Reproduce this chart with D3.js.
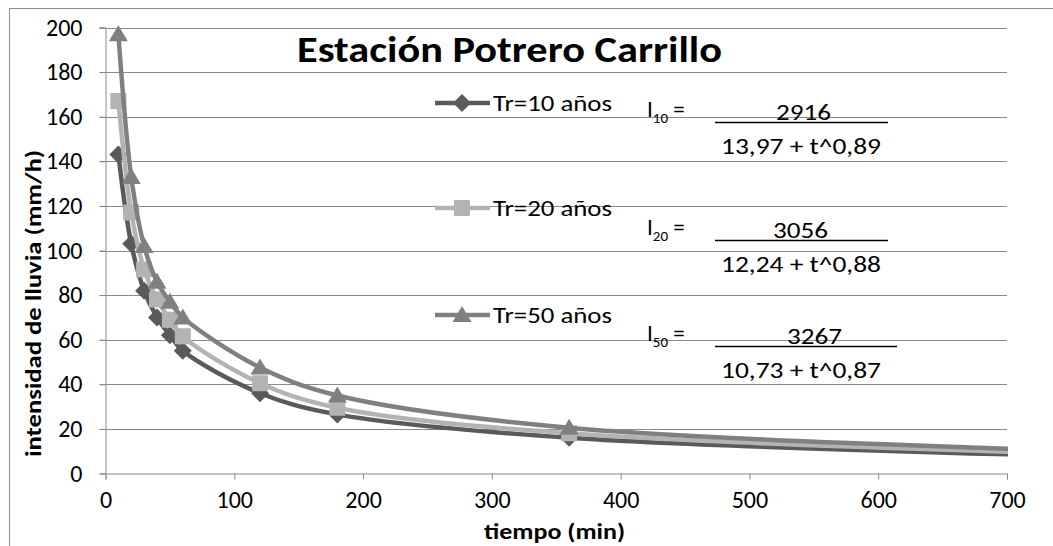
<!DOCTYPE html>
<html>
<head>
<meta charset="utf-8">
<script src="https://cdn.jsdelivr.net/npm/d3@7"></script>
<style>
  html, body { margin: 0; padding: 0; background: #fff; }
  svg text { font-family: Carlito, Calibri, Lato, "Open Sans", sans-serif; fill: #000; }
</style>
</head>
<body>
<svg id="chart" width="1053" height="546"></svg>
<script>
// Duration (min) and rainfall intensity (mm/h) for each return period
const tiempos = [10, 20, 30, 40, 50, 60, 120, 180, 360, 720];
const tr10 = [143, 103, 82, 70, 62, 55, 36, 26.5, 16, 8.3];
const tr20 = [167, 117, 91.5, 78, 69, 61.5, 40.5, 29.5, 18, 9.4];
const tr50 = [197, 133, 102, 86, 77, 70, 47.5, 35, 20.5, 10.8];
const seriesNames = ["Tr=10 años", "Tr=20 años", "Tr=50 años"];
const xTicks = [0, 100, 200, 300, 400, 500, 600, 700];
const yTicks = [0, 20, 40, 60, 80, 100, 120, 140, 160, 180, 200];
const titulo = "Estación Potrero Carrillo";
const xTitulo = "tiempo (min)";
const yTitulo = "intensidad de lluvia (mm/h)";
// IDF fit shown beside each legend entry
const ecuaciones = [
  { sub: "10", num: "2916", den: "13,97 + t^0,89" },
  { sub: "20", num: "3056", den: "12,24 + t^0,88" },
  { sub: "50", num: "3267", den: "10,73 + t^0,87" }
];

const svg = d3.select("#chart");
const W = 1053, H = 546;
const plot = { left: 105.5, right: 1007, top: 27.5, bottom: 473.5 };

const x = d3.scaleLinear().domain([0, 700]).range([plot.left, plot.right]);
const y = d3.scaleLinear().domain([0, 200]).range([plot.bottom, plot.top]);

const axisColor = "#8a8a8a";
const colors = ["#5a5a5a", "#b3b3b3", "#808080"];
const shapes = ["diamond", "square", "triangle"];
const fontStack = "Carlito, Calibri, Lato, sans-serif";

// outer chart border
svg.append("rect").attr("x", 9.5).attr("y", 8.5).attr("width", W + 20).attr("height", H + 20)
  .attr("fill", "none").attr("stroke", "#8c8c8c").attr("stroke-width", 1);

// horizontal gridlines
svg.append("g").selectAll("line").data(yTicks.filter(d => d > 0)).join("line")
  .attr("x1", plot.left - 6).attr("x2", plot.right)
  .attr("y1", d => Math.round(y(d)) + 0.5).attr("y2", d => Math.round(y(d)) + 0.5)
  .attr("stroke", axisColor).attr("stroke-width", 1);

// y axis
const yAxis = svg.append("g").attr("transform", `translate(${plot.left},0)`)
  .call(d3.axisLeft(y).tickValues(yTicks).tickSize(6).tickPadding(17).tickFormat(d3.format("d")));
yAxis.select(".domain").attr("stroke", axisColor);
yAxis.selectAll(".tick line").attr("stroke", axisColor);
yAxis.selectAll("text").attr("fill", "#000")
  .style("font-family", fontStack).style("font-size", "24px");

// x axis
const xAxis = svg.append("g").attr("transform", `translate(0,${plot.bottom})`)
  .call(d3.axisBottom(x).tickValues(xTicks).tickSize(6).tickPadding(11).tickFormat(d3.format("d")));
xAxis.select(".domain").attr("stroke", axisColor);
xAxis.selectAll(".tick line").attr("stroke", axisColor);
xAxis.selectAll("text").attr("fill", "#000")
  .style("font-family", fontStack).style("font-size", "24px");

// clip series to the plot area
svg.append("clipPath").attr("id", "clip").append("rect")
  .attr("x", plot.left).attr("y", plot.top - 12).attr("width", plot.right - plot.left + 1)
  .attr("height", plot.bottom - plot.top + 12);

function markerPath(shape) {
  if (shape === "diamond") return "M0,-9L9,0L0,9L-9,0Z";
  if (shape === "square") return "M-8,-8H8V8H-8Z";
  return "M0,-9L9.5,7L-9.5,7Z";
}

const line = d3.line().x(d => x(d[0])).y(d => y(d[1])).curve(d3.curveCatmullRom.alpha(0.5));
const series = [tr10, tr20, tr50].map((vals, i) => ({
  name: seriesNames[i], color: colors[i], shape: shapes[i],
  pts: tiempos.map((t, j) => [t, vals[j]])
}));

const gSeries = svg.append("g").attr("clip-path", "url(#clip)");
series.forEach(s => {
  gSeries.append("path").datum(s.pts).attr("d", line)
    .attr("fill", "none").attr("stroke", s.color).attr("stroke-width", 4.5)
    .attr("stroke-linejoin", "round");
  gSeries.selectAll(null).data(s.pts.filter(p => p[0] <= 700)).join("path")
    .attr("transform", p => `translate(${x(p[0])},${y(p[1])})`)
    .attr("d", markerPath(s.shape)).attr("fill", s.color);
});

// fit a text element to a target width
function fit(sel, w) {
  sel.attr("textLength", w).attr("lengthAdjust", "spacingAndGlyphs");
  return sel;
}
function sized(sel, px) { return sel.style("font-size", px + "px"); }

// title
fit(sized(svg.append("text").attr("x", 297).attr("y", 62).attr("font-weight", "bold"), 36)
  .text(titulo), 425);

// axis titles
fit(sized(svg.append("text").attr("x", 484).attr("y", 539).attr("font-weight", "bold"), 22)
  .text(xTitulo), 141);
fit(sized(svg.append("text").attr("transform", "translate(41,457) rotate(-90)")
  .attr("font-weight", "bold"), 22).text(yTitulo), 307);

// legend
const legendY = [103, 208, 315];
series.forEach((s, i) => {
  const g = svg.append("g").attr("transform", `translate(0,${legendY[i]})`);
  g.append("line").attr("x1", 435).attr("x2", 490).attr("y1", 0).attr("y2", 0)
    .attr("stroke", s.color).attr("stroke-width", 4.5);
  g.append("path").attr("transform", "translate(462,0)").attr("d", markerPath(s.shape)).attr("fill", s.color);
  fit(sized(g.append("text").attr("x", 493).attr("y", 8), 23).text(s.name), 119);
});

// equations
const eqLine = [122, 240, 346];
const eqLineEnd = [888, 888, 897];
const numX = [776, 773, 787];
ecuaciones.forEach((e, i) => {
  const ly = eqLine[i];
  const g = svg.append("g");
  const t = sized(g.append("text").attr("x", 647).attr("y", ly - 5), 23);
  t.append("tspan").text("I");
  sized(t.append("tspan").attr("dy", 6), 15).text(e.sub);
  t.append("tspan").attr("dy", -6).text(" =");
  g.append("line").attr("x1", 715).attr("x2", eqLineEnd[i]).attr("y1", ly + 0.5).attr("y2", ly + 0.5)
    .attr("stroke", "#000").attr("stroke-width", 1.3);
  fit(sized(g.append("text").attr("x", numX[i]).attr("y", ly - 2), 23).text(e.num), 55);
  fit(sized(g.append("text").attr("x", 721).attr("y", ly + 32), 23).text(e.den), 160);
});
</script>
</body>
</html>
